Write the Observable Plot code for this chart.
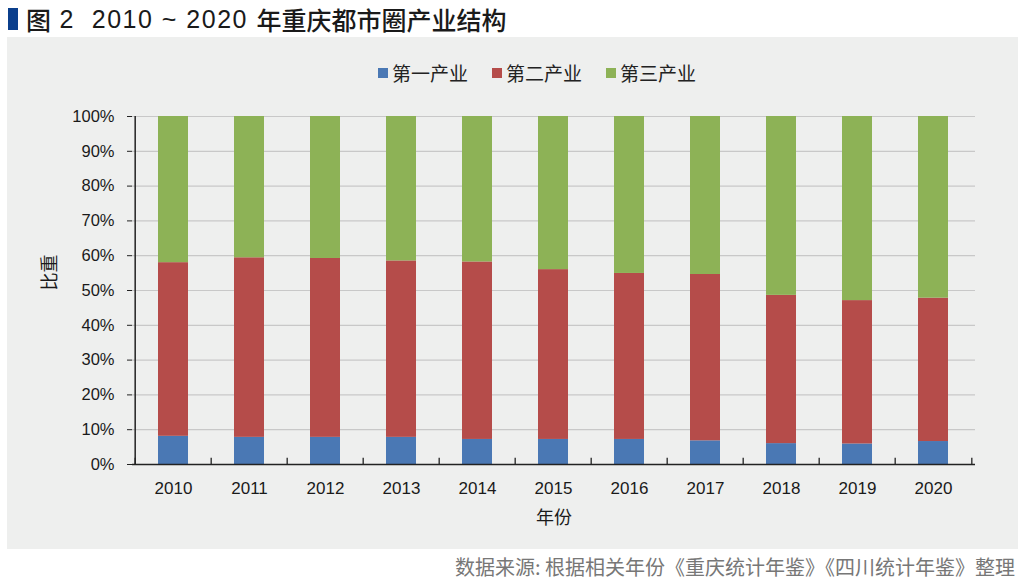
<!DOCTYPE html>
<html>
<head>
<meta charset="utf-8">
<script src="https://cdn.jsdelivr.net/npm/d3@7"></script>
<script src="https://cdn.jsdelivr.net/npm/@observablehq/plot@0.6"></script>
<style>
  html, body { margin: 0; padding: 0; background: #ffffff; }
  body { width: 1024px; height: 585px; position: relative; overflow: hidden; font-family: "Noto Sans CJK SC", "Noto Sans", sans-serif; }
  #title { position: absolute; left: 8px; top: 4px; height: 30px; display: flex; align-items: center; font-size: 25px; font-weight: 500; color: #1a1a1a; font-family: "Liberation Sans", "Noto Sans CJK SC", sans-serif; white-space: pre; }
  #title .num { letter-spacing: 1.5px; }
  #title .bar { display: inline-block; width: 10px; height: 22px; background: #0b3f8c; margin-right: 8px; }
  #panel { position: absolute; left: 7px; top: 37px; width: 1011px; height: 512px; background: #eeefee; }
  #legend { position: absolute; left: 0; top: 59px; width: 1074px; display: flex; justify-content: center; font-size: 19px; color: #222; }
  #legend .item { display: flex; align-items: center; margin: 0 12px; }
  #legend .sw { width: 10px; height: 10px; margin-right: 4px; }
  #chart { position: absolute; left: 0; top: 100px; }
  #source { position: absolute; right: 9px; top: 552px; font-size: 20px; color: #777; }
</style>
</head>
<body>
<div id="title"><span class="bar"></span><span>图</span><span class="num"> 2  2010 ~ 2020 </span><span>年重庆都市圈产业结构</span></div>
<div id="panel"></div>
<div id="legend"></div>
<div id="chart"></div>
<div id="source">数据来源: 根据相关年份《重庆统计年鉴》《四川统计年鉴》整理</div>
<script>
const years = ["2010","2011","2012","2013","2014","2015","2016","2017","2018","2019","2020"];
const seriesNames = ["第一产业", "第二产业", "第三产业"];
const seriesColors = ["#4a78b4", "#b54c4a", "#8db256"];
const primary   = [8.1, 7.8, 7.8, 7.8, 7.2, 7.2, 7.2, 6.8, 6.0, 5.9, 6.6];
const secondary = [49.9, 51.6, 51.4, 50.7, 51.0, 48.8, 47.7, 47.8, 42.6, 41.2, 41.2];
const tertiary  = [42.0, 40.6, 40.8, 41.5, 41.8, 44.0, 45.1, 45.4, 51.4, 52.9, 52.2];
const yTicks = [0, 10, 20, 30, 40, 50, 60, 70, 80, 90, 100];

const seriesValues = [primary, secondary, tertiary];
const rows = [];
years.forEach((yr, i) => {
  seriesNames.forEach((s, j) => rows.push({year: yr, series: s, value: seriesValues[j][i]}));
});

// legend
const legend = document.getElementById("legend");
seriesNames.forEach((s, j) => {
  const it = document.createElement("div");
  it.className = "item";
  it.innerHTML = `<span class="sw" style="background:${seriesColors[j]}"></span><span>${s}</span>`;
  legend.appendChild(it);
});

const W = 1024, ML = 132, MR = 49;
const step = (W - ML - MR) / years.length;

const chart = Plot.plot({
  width: W,
  height: 440,
  marginLeft: ML,
  marginRight: MR,
  marginTop: 16,
  marginBottom: 76,
  style: {background: "transparent", fontSize: "16.5px", fontFamily: "'Liberation Sans', Arial, sans-serif", color: "#1a1a1a"},
  x: {type: "band", domain: years, paddingInner: 0.6, paddingOuter: 0.3, label: null},
  y: {domain: [0, 100], label: null},
  color: {domain: seriesNames, range: seriesColors},
  marks: [
    Plot.gridY(yTicks, {stroke: "#c8c8c8", strokeOpacity: 1, strokeWidth: 1.2}),
    Plot.barY(rows, {x: "year", y: "value", fill: "series", order: seriesNames}),
    Plot.axisY(yTicks, {tickSize: 5, tickPadding: 13, tickFormat: d => d + "%", stroke: "#222", label: null}),
    Plot.axisX({tickSize: 0, tickPadding: 17, fontSize: 17, label: null}),
    Plot.ruleY([0], {stroke: "#222", strokeWidth: 1.5}),
    Plot.ruleX(years, {x: d => d, y1: 0, y2: 1.8, dx: -step / 2, stroke: "#222", strokeWidth: 1.3}),
    Plot.ruleX(years.slice(-1), {x: d => d, y1: 0, y2: 1.8, dx: step / 2, stroke: "#222", strokeWidth: 1.3}),
    Plot.ruleX(years.slice(0, 1), {x: d => d, y1: 0, y2: 100, dx: -step / 2, stroke: "#222", strokeWidth: 1.5}),
    Plot.text(["年份"], {frameAnchor: "bottom", dy: 59, fontSize: 18, fontFamily: "Noto Sans CJK SC", fill: "#1a1a1a"}),
    Plot.text(["比重"], {frameAnchor: "left", dx: -82, rotate: -90, fontSize: 18, fontFamily: "Noto Sans CJK SC", fill: "#1a1a1a"})
  ]
});
document.getElementById("chart").appendChild(chart);
</script>
</body>
</html>
